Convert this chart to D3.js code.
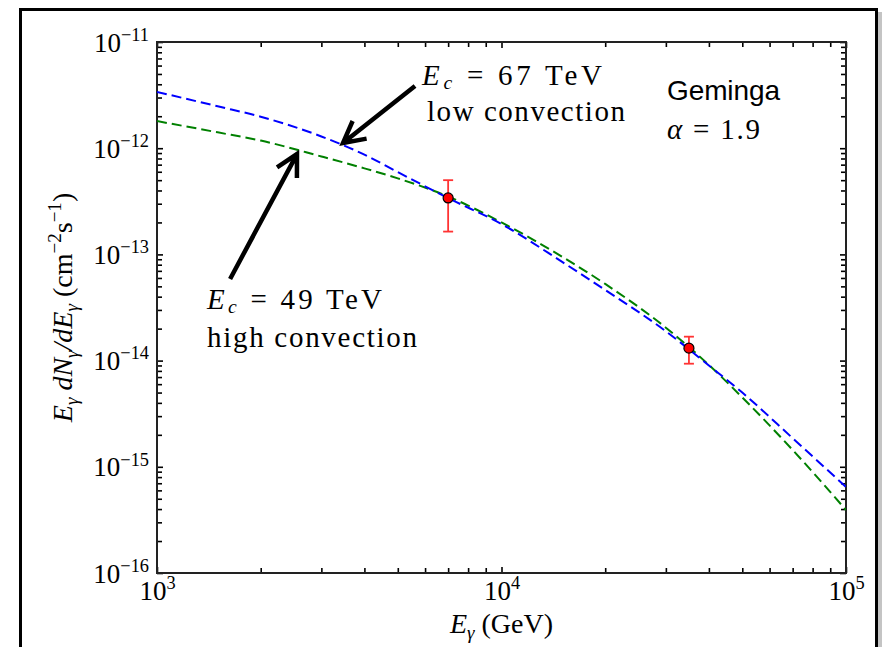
<!DOCTYPE html>
<html><head><meta charset="utf-8">
<script src="https://cdn.jsdelivr.net/npm/d3@7"></script>
<style>body{margin:0;background:#fff}svg{display:block}</style>
</head><body>
<svg id="chart" width="882" height="647"></svg>
<script>
// ---------- data ----------
const energyGrid = [1000, 1500, 2000, 3000, 4000, 5000, 7000, 10000, 15000, 20000, 30000, 40000, 50000, 70000, 100000];
const fluxLowConv = [3.39e-12, 2.48e-12, 1.98e-12, 1.29e-12, 8.7e-13, 5.96e-13, 3.39e-13, 1.93e-13, 8.5e-14, 4.62e-14, 1.89e-14, 9.0e-15, 5.0e-15, 1.86e-15, 6.45e-16];
const fluxHighConv = [1.80e-12, 1.41e-12, 1.18e-12, 8.36e-13, 6.46e-13, 5.2e-13, 3.51e-13, 2.0e-13, 9.5e-14, 5.27e-14, 2.04e-14, 9.1e-15, 4.5e-15, 1.44e-15, 3.92e-16];
const obsEnergy = [7000, 35000];
const obsFlux = [3.4e-13, 1.31e-14];
const obsLow = [1.64e-13, 9.35e-15];
const obsHigh = [5.0e-13, 1.68e-14];
const xMajor = [1e3, 1e4, 1e5];
const xMajorExp = ["3", "4", "5"];
const yMajor = [1e-16, 1e-15, 1e-14, 1e-13, 1e-12, 1e-11];
const yMajorExp = ["\u221216", "\u221215", "\u221214", "\u221213", "\u221212", "\u221211"];
// annotation anchors (data coords): [tipE, tipF, tailE, tailF]
const arrowLow = [3467, 1.12e-12, 5610, 3.86e-12];
const arrowHigh = [2549, 8.8e-13, 1630, 5.87e-14];

// ---------- setup ----------
const svg = d3.select("#chart");
const L = 157, R = 846, T = 42, B = 573;
const x = d3.scaleLog().domain([1e3, 1e5]).range([L, R]);
const y = d3.scaleLog().domain([1e-16, 1e-11]).range([B, T]);
const serif = "'Liberation Serif', 'Times New Roman', serif";

svg.append("rect").attr("width", 882).attr("height", 647).attr("fill", "#fff");
// outer frame
svg.append("rect").attr("x", 878).attr("y", 12).attr("width", 4).attr("height", 640).attr("fill", "#c4c4c4");
svg.append("path").attr("d", "M20.5,650 V9.5 H876.5 V650").attr("fill", "none").attr("stroke", "#000").attr("stroke-width", 3);

// rich text helper
function rich(sel, parts, size, subShift) {
  let cur = 0;
  const sub = subShift === undefined ? 0.22 : subShift;
  parts.forEach(p => {
    const fs = (p.s === "sub" || p.s === "sup") ? size * 0.68 : size;
    const target = p.s === "sub" ? size * sub : p.s === "sup" ? -size * 0.4 : 0;
    const ts = sel.append("tspan").text(p.t).attr("font-size", fs);
    if (target !== cur) { ts.attr("dy", target - cur); cur = target; }
    if (p.i) ts.attr("font-style", "italic");
  });
}

// minor tick values
const xMinor = [];
[1e3, 1e4].forEach(d => { for (let k = 2; k <= 9; k++) xMinor.push(d * k); });
const yMinor = [];
[1e-16, 1e-15, 1e-14, 1e-13, 1e-12].forEach(d => { for (let k = 2; k <= 9; k++) yMinor.push(d * k); });

const axesG = svg.append("g");
function addAxis(gen, tx, ty, vals, size) {
  const g = axesG.append("g").attr("transform", `translate(${tx},${ty})`)
    .call(gen.tickValues(vals).tickSizeInner(-size).tickSizeOuter(0).tickFormat(""));
  g.attr("font-family", serif);
  g.select(".domain").remove();
  g.selectAll(".tick line").attr("stroke", "#000").attr("stroke-width", 1.6);
  return g;
}
addAxis(d3.axisBottom(x), 0, B, xMinor, 5);
addAxis(d3.axisTop(x), 0, T, xMinor, 5);
addAxis(d3.axisLeft(y), L, 0, yMinor, 5);
addAxis(d3.axisRight(y), R, 0, yMinor, 5);
addAxis(d3.axisTop(x), 0, T, xMajor, 6);
addAxis(d3.axisRight(y), R, 0, yMajor, 6);
const gxb = addAxis(d3.axisBottom(x), 0, B, xMajor, 6);
const gyl = addAxis(d3.axisLeft(y), L, 0, yMajor, 6);

gxb.selectAll(".tick text").each(function(d, i) {
  const t = d3.select(this).attr("y", 27).attr("dy", null).attr("fill", "#000")
    .attr("text-anchor", "middle").attr("font-size", 27).attr("font-family", serif);
  rich(t, [{t: "10"}, {t: xMajorExp[i], s: "sup"}], 27);
});
gyl.selectAll(".tick text").each(function(d, i) {
  const t = d3.select(this).attr("x", -8).attr("y", 9).attr("dy", null).attr("fill", "#000")
    .attr("text-anchor", "end").attr("font-size", 27).attr("font-family", serif);
  rich(t, [{t: "10"}, {t: yMajorExp[i], s: "sup"}], 27);
});

// plot frame
svg.append("rect").attr("x", L).attr("y", T).attr("width", R - L).attr("height", B - T)
  .attr("fill", "none").attr("stroke", "#222").attr("stroke-width", 2);

// curves
svg.append("clipPath").attr("id", "clip").append("rect").attr("x", L).attr("y", T).attr("width", R - L).attr("height", B - T);
const line = d3.line().x(d => x(d[0])).y(d => y(d[1])).curve(d3.curveMonotoneX);
const curves = svg.append("g").attr("clip-path", "url(#clip)");
curves.append("path").datum(d3.zip(energyGrid, fluxHighConv)).attr("d", line)
  .attr("fill", "none").attr("stroke", "#008000").attr("stroke-width", 2).attr("stroke-dasharray", "10,5");
curves.append("path").datum(d3.zip(energyGrid, fluxLowConv)).attr("d", line)
  .attr("fill", "none").attr("stroke", "#0000ff").attr("stroke-width", 2).attr("stroke-dasharray", "10,5");

// data points with error bars
const pts = svg.append("g").selectAll("g").data(d3.range(obsEnergy.length)).join("g");
pts.append("line").attr("x1", i => x(obsEnergy[i])).attr("x2", i => x(obsEnergy[i]))
  .attr("y1", i => y(obsLow[i])).attr("y2", i => y(obsHigh[i])).attr("stroke", "#ff3333").attr("stroke-width", 1.8);
[obsLow, obsHigh].forEach(arr => {
  pts.append("line").attr("x1", i => x(obsEnergy[i]) - 5).attr("x2", i => x(obsEnergy[i]) + 5)
    .attr("y1", i => y(arr[i])).attr("y2", i => y(arr[i])).attr("stroke", "#ff3333").attr("stroke-width", 1.8);
});
pts.append("circle").attr("cx", i => x(obsEnergy[i])).attr("cy", i => y(obsFlux[i])).attr("r", 5)
  .attr("fill", "#ff0000").attr("stroke", "#000").attr("stroke-width", 1.2);

// arrows
function arrow(a) {
  const tx = x(a[0]), ty = y(a[1]), sx = x(a[2]), sy = y(a[3]);
  const ang = Math.atan2(sy - ty, sx - tx), hl = 24, ha = 28 * Math.PI / 180;
  const b1 = [tx + hl * Math.cos(ang + ha), ty + hl * Math.sin(ang + ha)];
  const b2 = [tx + hl * Math.cos(ang - ha), ty + hl * Math.sin(ang - ha)];
  svg.append("path").attr("d", `M${sx},${sy} L${tx},${ty} M${b1[0]},${b1[1]} L${tx},${ty} L${b2[0]},${b2[1]}`)
    .attr("fill", "none").attr("stroke", "#000").attr("stroke-width", 4.5).attr("stroke-linejoin", "miter");
}
arrow(arrowLow);
arrow(arrowHigh);

// annotations
const ann = svg.append("g").attr("font-family", serif).attr("fill", "#000");
function label(xp, yp, parts, size, len, fam, subShift) {
  const t = ann.append("text").attr("x", xp).attr("y", yp).attr("font-size", size);
  if (fam) t.attr("font-family", fam);
  rich(t, parts, size, subShift);
  if (len) t.attr("textLength", len).attr("lengthAdjust", "spacing");
  return t;
}
label(422, 85, [{t: "E", i: true}, {t: "c", i: true, s: "sub"}, {t: " = 67 TeV"}], 29, 180, null, 0.15);
label(427, 121, [{t: "low convection"}], 29, 198);
label(207, 309, [{t: "E", i: true}, {t: "c", i: true, s: "sub"}, {t: " = 49 TeV"}], 29, 175, null, 0.15);
label(207, 347, [{t: "high convection"}], 29, 210);
label(667, 100, [{t: "Geminga"}], 28, 113, "'Liberation Sans', Arial, sans-serif");
label(667, 139, [{t: "\u03b1", i: true}, {t: " = 1.9"}], 29, 93);

// axis titles
const xt = ann.append("text").attr("x", (L + R) / 2).attr("y", 633).attr("text-anchor", "middle").attr("font-size", 28);
rich(xt, [{t: "E", i: true}, {t: "\u03b3", i: true, s: "sub"}, {t: " (GeV)"}], 28);
const yt = ann.append("text").attr("transform", `translate(72,${(T + B) / 2}) rotate(-90)`).attr("text-anchor", "middle").attr("font-size", 28);
rich(yt, [{t: "E", i: true}, {t: "\u03b3", i: true, s: "sub"}, {t: " dN", i: true}, {t: "\u03b3", i: true, s: "sub"},
  {t: "/dE", i: true}, {t: "\u03b3", i: true, s: "sub"}, {t: " (cm"}, {t: "\u22122", s: "sup"}, {t: "s"}, {t: "\u22121", s: "sup"}, {t: ")"}], 28);
</script>
</body></html>
